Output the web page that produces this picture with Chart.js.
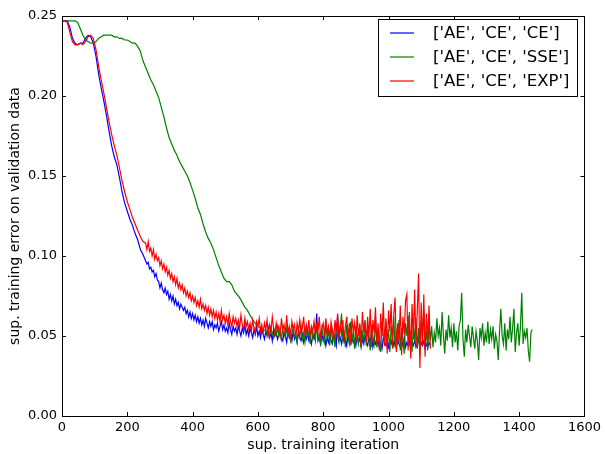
<!DOCTYPE html>
<html>
<head>
<meta charset="utf-8">
<script src="https://cdn.jsdelivr.net/npm/chart.js@4"></script>
<style>
  html, body { margin: 0; padding: 0; background: #fff; }
  #wrap { width: 605px; height: 454px; }
</style>
</head>
<body>
<div id="wrap"><canvas id="ErrorChart" width="605" height="454"></canvas></div>
<script>
// smooth start of each run sampled every 8 iterations, noisy part every 4
const headStep = 8;
const tailStep = 4;
const seriesLabels = ["['AE', 'CE', 'CE']", "['AE', 'CE', 'SSE']", "['AE', 'CE', 'EXP']"];
const seriesColors = ['#0000ff', '#008000', '#ff0000'];

// ['AE','CE','CE'] : iterations 0..248, then 256..1128
const errCEHead = [
  0.247, 0.247, 0.247, 0.243, 0.236, 0.233, 0.232, 0.233, 0.233, 0.236,
  0.238, 0.237, 0.233, 0.225, 0.214, 0.205, 0.197, 0.188, 0.178, 0.169,
  0.162, 0.157, 0.149, 0.140, 0.133, 0.128, 0.123, 0.119, 0.114, 0.110,
  0.104, 0.101
];
const errCETailStart = 256;
const errCETail = [
  0.097, 0.095, 0.096, 0.092, 0.093, 0.090, 0.091, 0.087, 0.089, 0.085,
  0.084, 0.080, 0.083, 0.079, 0.077, 0.080, 0.076, 0.078, 0.073, 0.076,
  0.072, 0.075, 0.070, 0.073, 0.069, 0.071, 0.067, 0.070, 0.068, 0.066,
  0.068, 0.064, 0.066, 0.062, 0.065, 0.061, 0.064, 0.060, 0.063, 0.059,
  0.062, 0.058, 0.061, 0.057, 0.060, 0.056, 0.061, 0.058, 0.055, 0.059,
  0.056, 0.059, 0.054, 0.057, 0.055, 0.058, 0.053, 0.056, 0.059, 0.054,
  0.057, 0.053, 0.055, 0.052, 0.058, 0.054, 0.051, 0.056, 0.053, 0.055,
  0.051, 0.056, 0.053, 0.050, 0.055, 0.052, 0.057, 0.051, 0.054, 0.050,
  0.055, 0.052, 0.049, 0.054, 0.051, 0.056, 0.050, 0.053, 0.049, 0.054,
  0.051, 0.048, 0.053, 0.050, 0.055, 0.049, 0.052, 0.047, 0.054, 0.050,
  0.052, 0.048, 0.051, 0.054, 0.049, 0.047, 0.052, 0.050, 0.046, 0.053,
  0.049, 0.051, 0.047, 0.053, 0.048, 0.050, 0.046, 0.052, 0.049, 0.047,
  0.051, 0.046, 0.050, 0.048, 0.053, 0.047, 0.049, 0.045, 0.051, 0.048,
  0.050, 0.064, 0.047, 0.049, 0.045, 0.051, 0.047, 0.050, 0.044, 0.049,
  0.046, 0.050, 0.047, 0.045, 0.051, 0.048, 0.044, 0.063, 0.047, 0.049,
  0.045, 0.050, 0.046, 0.048, 0.044, 0.051, 0.047, 0.045, 0.049, 0.046,
  0.048, 0.044, 0.050, 0.046, 0.049, 0.043, 0.048, 0.045, 0.050, 0.046,
  0.044, 0.049, 0.046, 0.051, 0.043, 0.047, 0.045, 0.049, 0.044, 0.048,
  0.045, 0.042, 0.049, 0.046, 0.044, 0.048, 0.043, 0.047, 0.045, 0.049,
  0.044, 0.047, 0.042, 0.048, 0.045, 0.043, 0.047, 0.044, 0.049, 0.043,
  0.046, 0.044, 0.048, 0.042, 0.046, 0.044, 0.047, 0.043, 0.045, 0.048,
  0.043, 0.046, 0.044, 0.047, 0.042, 0.045, 0.043, 0.046, 0.044
];

// ['AE','CE','SSE'] : iterations 0..616, then 624..1440
const errSSEHead = [
  0.247, 0.247, 0.247, 0.247, 0.247, 0.247, 0.246, 0.242, 0.238, 0.235,
  0.234, 0.233, 0.233, 0.234, 0.236, 0.237, 0.238, 0.238, 0.238, 0.238,
  0.237, 0.237, 0.236, 0.236, 0.235, 0.235, 0.234, 0.233, 0.233, 0.231,
  0.228, 0.222, 0.218, 0.214, 0.210, 0.207, 0.203, 0.199, 0.193, 0.187,
  0.180, 0.174, 0.170, 0.166, 0.163, 0.159, 0.156, 0.153, 0.150, 0.146,
  0.141, 0.136, 0.130, 0.126, 0.120, 0.115, 0.111, 0.108, 0.104, 0.099,
  0.094, 0.090, 0.086, 0.084, 0.084, 0.082, 0.078, 0.076, 0.074, 0.071,
  0.068, 0.066, 0.063, 0.060, 0.058, 0.056, 0.055, 0.053
];
const errSSETailStart = 624;
const errSSETail = [
  0.054, 0.051, 0.053, 0.050, 0.055, 0.052, 0.049, 0.054, 0.051, 0.056,
  0.050, 0.053, 0.048, 0.054, 0.051, 0.049, 0.055, 0.050, 0.053, 0.047,
  0.052, 0.055, 0.049, 0.051, 0.046, 0.054, 0.050, 0.057, 0.048, 0.052,
  0.046, 0.055, 0.050, 0.053, 0.045, 0.056, 0.049, 0.052, 0.047, 0.058,
  0.048, 0.051, 0.044, 0.055, 0.050, 0.046, 0.057, 0.049, 0.053, 0.044,
  0.056, 0.047, 0.051, 0.043, 0.058, 0.050, 0.046, 0.054, 0.064, 0.048,
  0.052, 0.043, 0.057, 0.049, 0.045, 0.059, 0.047, 0.053, 0.042, 0.056,
  0.049, 0.045, 0.058, 0.043, 0.052, 0.047, 0.060, 0.044, 0.054, 0.048,
  0.041, 0.057, 0.050, 0.045, 0.061, 0.043, 0.053, 0.047, 0.040, 0.058,
  0.051, 0.044, 0.059, 0.046, 0.054, 0.040, 0.056, 0.049, 0.062, 0.043,
  0.052, 0.045, 0.060, 0.041, 0.055, 0.048, 0.039, 0.058, 0.050, 0.063,
  0.044, 0.053, 0.040, 0.057, 0.047, 0.061, 0.042, 0.055, 0.038, 0.059,
  0.049, 0.066, 0.045, 0.053, 0.041, 0.058, 0.047, 0.056, 0.043, 0.052,
  0.046, 0.061, 0.050, 0.055, 0.044, 0.065, 0.051, 0.039, 0.054, 0.047,
  0.063, 0.049, 0.055, 0.043, 0.058, 0.046, 0.053, 0.041, 0.056, 0.060,
  0.077, 0.048, 0.037, 0.054, 0.046, 0.057, 0.050, 0.043, 0.056, 0.049,
  0.042, 0.053, 0.047, 0.035, 0.055, 0.049, 0.058, 0.044, 0.052, 0.046,
  0.059, 0.045, 0.054, 0.048, 0.056, 0.042, 0.051, 0.047, 0.035, 0.053,
  0.067, 0.050, 0.045, 0.058, 0.041, 0.054, 0.048, 0.062, 0.046, 0.055,
  0.067, 0.040, 0.052, 0.058, 0.044, 0.056, 0.077, 0.045, 0.053, 0.049,
  0.055, 0.041, 0.034, 0.052, 0.054
];

// ['AE','CE','EXP'] : iterations 0..248, then 256..1128
const errEXPHead = [
  0.247, 0.247, 0.246, 0.240, 0.234, 0.232, 0.232, 0.233, 0.232, 0.234,
  0.237, 0.238, 0.236, 0.229, 0.219, 0.210, 0.202, 0.193, 0.184, 0.176,
  0.169, 0.163, 0.155, 0.147, 0.140, 0.134, 0.129, 0.124, 0.120, 0.116,
  0.112, 0.109
];
const errEXPTailStart = 256;
const errEXPTail = [
  0.108, 0.104, 0.109, 0.103, 0.105, 0.100, 0.104, 0.098, 0.101, 0.097,
  0.099, 0.094, 0.097, 0.092, 0.095, 0.090, 0.093, 0.088, 0.091, 0.086,
  0.089, 0.084, 0.087, 0.082, 0.086, 0.080, 0.083, 0.079, 0.082, 0.077,
  0.080, 0.075, 0.078, 0.074, 0.077, 0.072, 0.075, 0.071, 0.074, 0.069,
  0.072, 0.068, 0.073, 0.067, 0.070, 0.066, 0.069, 0.064, 0.068, 0.063,
  0.067, 0.062, 0.066, 0.061, 0.065, 0.060, 0.064, 0.059, 0.066, 0.060,
  0.063, 0.058, 0.062, 0.057, 0.064, 0.059, 0.056, 0.062, 0.058, 0.061,
  0.056, 0.060, 0.055, 0.063, 0.057, 0.054, 0.061, 0.056, 0.059, 0.054,
  0.058, 0.053, 0.060, 0.055, 0.052, 0.059, 0.056, 0.061, 0.053, 0.057,
  0.052, 0.058, 0.054, 0.060, 0.051, 0.057, 0.053, 0.062, 0.055, 0.051,
  0.058, 0.053, 0.056, 0.050, 0.061, 0.054, 0.057, 0.051, 0.063, 0.052,
  0.056, 0.050, 0.059, 0.054, 0.057, 0.049, 0.058, 0.053, 0.060, 0.051,
  0.055, 0.062, 0.050, 0.057, 0.052, 0.060, 0.049, 0.056, 0.053, 0.059,
  0.050, 0.057, 0.053, 0.062, 0.048, 0.055, 0.058, 0.050, 0.061, 0.052,
  0.056, 0.049, 0.059, 0.054, 0.047, 0.060, 0.053, 0.064, 0.049, 0.057,
  0.051, 0.060, 0.047, 0.056, 0.062, 0.049, 0.058, 0.045, 0.061, 0.053,
  0.058, 0.046, 0.063, 0.050, 0.057, 0.044, 0.065, 0.052, 0.059, 0.046,
  0.062, 0.049, 0.067, 0.043, 0.060, 0.052, 0.068, 0.045, 0.058, 0.041,
  0.064, 0.050, 0.071, 0.044, 0.061, 0.039, 0.066, 0.053, 0.070, 0.042,
  0.063, 0.074, 0.040, 0.058, 0.047, 0.069, 0.038, 0.062, 0.051, 0.072,
  0.076, 0.041, 0.065, 0.036, 0.070, 0.048, 0.079, 0.043, 0.066, 0.089,
  0.030, 0.071, 0.044, 0.076, 0.037, 0.064, 0.047, 0.069, 0.042
];

const xTicks = [0, 200, 400, 600, 800, 1000, 1200, 1400, 1600];
const yTicks = [0.00, 0.05, 0.10, 0.15, 0.20, 0.25];

function toPoints(head, tail, tailStart) {
  const pts = head.map((v, i) => ({ x: i * headStep, y: v }));
  tail.forEach((v, i) => pts.push({ x: tailStart + i * tailStep, y: v }));
  return pts;
}

// matplotlib style frame: full box, ticks pointing inwards, legend inside
const frameAndLegend = {
  id: 'frameAndLegend',
  afterDraw(chart) {
    const ctx = chart.ctx;
    const a = chart.chartArea;
    const xs = chart.scales.x, ys = chart.scales.y;
    ctx.save();
    ctx.strokeStyle = '#000';
    ctx.lineWidth = 1;
    ctx.beginPath();
    xTicks.forEach(t => {
      const px = Math.round(xs.getPixelForValue(t)) + 0.5;
      ctx.moveTo(px, a.bottom); ctx.lineTo(px, a.bottom - 4);
      ctx.moveTo(px, a.top); ctx.lineTo(px, a.top + 4);
    });
    yTicks.forEach(t => {
      const py = Math.round(ys.getPixelForValue(t)) + 0.5;
      ctx.moveTo(a.left, py); ctx.lineTo(a.left + 4, py);
      ctx.moveTo(a.right, py); ctx.lineTo(a.right - 4, py);
    });
    ctx.stroke();
    ctx.strokeRect(Math.round(a.left) + 0.5, Math.round(a.top) + 0.5,
      Math.round(a.right - a.left), Math.round(a.bottom - a.top));

    // legend box
    const bx = 378.5, by = 19.5, bw = 199, bh = 77;
    ctx.fillStyle = '#fff';
    ctx.fillRect(bx, by, bw, bh);
    ctx.strokeRect(bx, by, bw, bh);
    ctx.font = '16.5px "DejaVu Sans"';
    ctx.textBaseline = 'middle';
    chart.data.datasets.forEach((ds, i) => {
      const ry = 33 + i * 24;
      ctx.strokeStyle = ds.borderColor;
      ctx.lineWidth = 1.2;
      ctx.beginPath();
      ctx.moveTo(390, ry); ctx.lineTo(414, ry);
      ctx.stroke();
      ctx.fillStyle = '#000';
      ctx.fillText(ds.label, 433, ry + 1);
    });
    ctx.restore();
  }
};

new Chart(document.getElementById('ErrorChart'), {
  type: 'line',
  data: {
    datasets: [
      { label: seriesLabels[0], data: toPoints(errCEHead, errCETail, errCETailStart), borderColor: seriesColors[0], order: 2 },
      { label: seriesLabels[1], data: toPoints(errSSEHead, errSSETail, errSSETailStart), borderColor: seriesColors[1], order: 1 },
      { label: seriesLabels[2], data: toPoints(errEXPHead, errEXPTail, errEXPTailStart), borderColor: seriesColors[2], order: 0 }
    ]
  },
  options: {
    responsive: false,
    animation: false,
    events: [],
    layout: { padding: { left: 0, right: 18, top: 16, bottom: 0 } },
    elements: {
      line: { borderWidth: 1.2, tension: 0, fill: false },
      point: { radius: 0 }
    },
    plugins: {
      legend: { display: false },
      tooltip: { enabled: false }
    },
    scales: {
      x: {
        type: 'linear',
        min: 0,
        max: 1600,
        afterFit(s) { s.height = 38; },
        grid: { display: false, drawTicks: false },
        border: { display: false },
        ticks: {
          stepSize: 200,
          padding: 4,
          color: '#000',
          maxRotation: 0,
          font: { family: 'DejaVu Sans', size: 13 },
          callback: v => String(v)
        },
        title: {
          display: true,
          text: 'sup. training iteration',
          color: '#000',
          padding: { top: 3, bottom: 0 },
          font: { family: 'DejaVu Sans', size: 14 }
        }
      },
      y: {
        min: 0,
        max: 0.25,
        afterFit(s) { s.width = 62; },
        grid: { display: false, drawTicks: false },
        border: { display: false },
        ticks: {
          stepSize: 0.05,
          padding: 5,
          color: '#000',
          font: { family: 'DejaVu Sans', size: 13 },
          callback: v => v.toFixed(2)
        },
        title: {
          display: true,
          text: 'sup. training error on validation data',
          color: '#000',
          padding: { top: 7, bottom: 0 },
          font: { family: 'DejaVu Sans', size: 14 }
        }
      }
    }
  },
  plugins: [frameAndLegend]
});
</script>
</body>
</html>
